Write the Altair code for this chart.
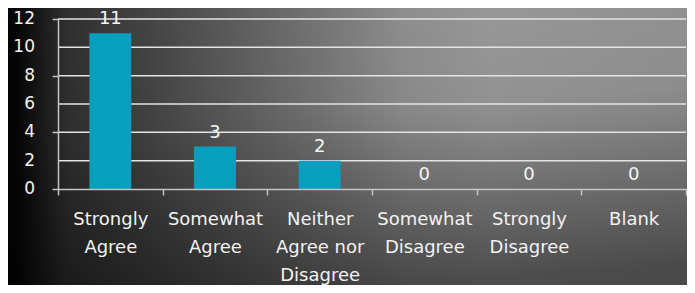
import json
import altair as alt
import pandas as pd

categories = ["Strongly Agree", "Somewhat Agree", "Neither Agree nor Disagree",
              "Somewhat Disagree", "Strongly Disagree", "Blank"]
counts = [11, 3, 2, 0, 0, 0]
label_lines = [["Strongly", "Agree"], ["Somewhat", "Agree"],
               ["Neither", "Agree nor", "Disagree"], ["Somewhat", "Disagree"],
               ["Strongly", "Disagree"], ["Blank"]]
y_ticks = [0, 2, 4, 6, 8, 10, 12]

FONT = "DejaVu Sans"
W, H = 628, 170
PAD = {"left": 50, "top": 11, "right": 1, "bottom": 96}

df = pd.DataFrame({"category": categories, "count": counts})
grid_df = pd.DataFrame({"count": y_ticks})
one = pd.DataFrame({"a": [0]})

label_map = json.dumps(dict(zip(categories, label_lines)))

xscale = alt.Scale(domain=categories, paddingInner=0, paddingOuter=0)
yscale = alt.Scale(domain=[0, 12])

y_axis = alt.Axis(
    values=y_ticks, labels=False,
    tickSize=6, tickColor="#c4c4c4", tickWidth=1.5,
    domainColor="#c4c4c4", domainWidth=1.5,
    grid=False, zindex=1,
)

bg_pos = dict(x=alt.value(-PAD["left"] - 20), x2=alt.value(W + PAD["right"] + 20),
              y=alt.value(-PAD["top"] - 20), y2=alt.value(H + PAD["bottom"] + 20))

bg_main = alt.Chart(one).mark_rect(
    fill=alt.LinearGradient(
        gradient="linear", x1=0, y1=0, x2=1, y2=0,
        stops=[
            alt.GradientStop(offset=0.0, color="#000000"),
            alt.GradientStop(offset=0.04, color="#050505"),
            alt.GradientStop(offset=0.11, color="#303030"),
            alt.GradientStop(offset=0.23, color="#464646"),
            alt.GradientStop(offset=0.44, color="#727272"),
            alt.GradientStop(offset=0.58, color="#909090"),
            alt.GradientStop(offset=0.70, color="#9a9a9a"),
            alt.GradientStop(offset=1.0, color="#939393"),
        ]),
    strokeWidth=0,
).encode(**bg_pos)

bg_shade = alt.Chart(one).mark_rect(
    fill=alt.LinearGradient(
        gradient="linear", x1=0, y1=0, x2=0.15, y2=1,
        stops=[
            alt.GradientStop(offset=0.0, color="rgba(0,0,0,0)"),
            alt.GradientStop(offset=0.45, color="rgba(0,0,0,0.05)"),
            alt.GradientStop(offset=1.0, color="rgba(0,0,0,0.5)"),
        ]),
    strokeWidth=0,
).encode(**bg_pos)

grid = alt.Chart(grid_df).transform_filter("datum.count > 0").mark_rule(
    color="#e4e4e4", strokeWidth=1.5
).encode(
    y=alt.Y("count:Q", scale=yscale, title=None, axis=y_axis)
)

y_labels = alt.Chart(grid_df).mark_text(
    align="right", baseline="middle", font=FONT, fontSize=17, color="#f2f2f2",
).encode(
    x=alt.value(-23),
    y=alt.Y("count:Q", scale=yscale, title=None, axis=y_axis),
    text=alt.Text("count:Q"),
)

bars = alt.Chart(df).mark_bar(
    color="#079fc0", width=alt.RelativeBandSize(0.4),
).encode(
    x=alt.X("category:N", sort=categories, scale=xscale, title=None,
            axis=alt.Axis(
                labelExpr=f"{label_map}[datum.label]",
                labelAngle=0, labelFont=FONT, labelFontSize=18,
                labelColor="#f2f2f2", labelLineHeight=28,
                labelPadding=15, labelBaseline="top",
                tickBand="extent", tickSize=6, tickColor="#c4c4c4",
                tickWidth=1.5, domainColor="#c4c4c4", domainWidth=1.5,
                grid=False, zindex=1,
            )),
    y=alt.Y("count:Q", scale=yscale, title=None, axis=y_axis),
)

text = alt.Chart(df).mark_text(
    dy=-9, baseline="alphabetic", font=FONT, fontSize=18, color="#f5f5f5",
).encode(
    x=alt.X("category:N", sort=categories, scale=xscale),
    y=alt.Y("count:Q", scale=yscale),
    text=alt.Text("count:Q"),
)

chart = alt.layer(bg_main, bg_shade, grid, bars, text, y_labels).properties(
    width=W, height=H, padding=PAD, autosize="none", background="#000000",
).configure_view(stroke=None)

chart.save("out.html", embed_options={"renderer": "svg", "actions": False})
